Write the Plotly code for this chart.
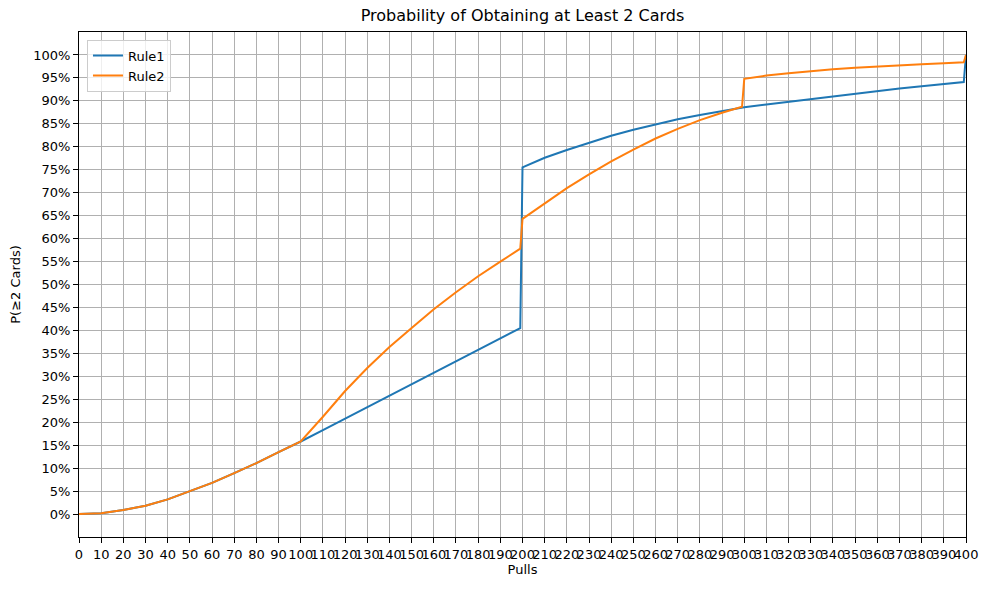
import plotly.graph_objects as go

# values (probability of >= 2 cards)
pulls = [0, 10, 20, 30, 40, 50, 60, 70, 80, 90, 100,
         110, 120, 130, 140, 150, 160, 170, 180, 190, 199,
         200, 210, 220, 230, 240, 250, 260, 270, 280, 290, 299,
         300, 310, 320, 330, 340, 350, 360, 370, 380, 390, 399, 400]

rule1 = [0.0, 0.002, 0.009, 0.018, 0.032, 0.050, 0.068, 0.089, 0.111, 0.135, 0.158,
         0.183, 0.208, 0.233, 0.258, 0.283, 0.308, 0.333, 0.358, 0.383, 0.405,
         0.755, 0.776, 0.793, 0.809, 0.824, 0.837, 0.849, 0.860, 0.869, 0.878, 0.885,
         0.886, 0.892, 0.898, 0.904, 0.910, 0.916, 0.922, 0.927, 0.932, 0.937, 0.941, 1.0]

rule2 = [0.0, 0.002, 0.009, 0.018, 0.032, 0.050, 0.068, 0.089, 0.111, 0.135, 0.158,
         0.212, 0.268, 0.318, 0.364, 0.405, 0.446, 0.483, 0.518, 0.550, 0.578,
         0.643, 0.677, 0.710, 0.740, 0.768, 0.794, 0.818, 0.839, 0.858, 0.874, 0.887,
         0.948, 0.955, 0.960, 0.965, 0.969, 0.972, 0.975, 0.978, 0.980, 0.982, 0.984, 1.0]

series = [("Rule1", rule1, "#1f77b4"), ("Rule2", rule2, "#ff7f0e")]

x_ticks = list(range(0, 401, 10))
y_ticks = [i / 20 for i in range(21)]

FONT = "DejaVu Sans, Liberation Sans, sans-serif"

fig = go.Figure()
for name, values, color in series:
    fig.add_trace(go.Scatter(
        x=pulls, y=values, name=name, mode="lines",
        line=dict(color=color, width=2),
    ))

axis_style = dict(
    showline=True, linecolor="black", linewidth=1, mirror=True,
    showgrid=True, gridcolor="#b0b0b0", gridwidth=1,
    ticks="outside", ticklen=5, tickwidth=1, tickcolor="black",
    zeroline=False, tickfont=dict(size=13, color="black"),
    automargin=False,
)

fig.update_layout(
    width=990, height=590,
    paper_bgcolor="white", plot_bgcolor="white",
    font=dict(family=FONT, size=13, color="black"),
    title=dict(text="Probability of Obtaining at Least 2 Cards", x=0.5, xref="paper",
               yref="paper", y=1, yanchor="bottom", pad=dict(b=11), font=dict(size=16)),
    margin=dict(l=71, r=32, t=24, b=61),
    showlegend=True,
    legend=dict(x=0.009, y=0.985, xanchor="left", yanchor="top",
                bgcolor="rgba(255,255,255,0.8)", bordercolor="#cccccc", borderwidth=1,
                font=dict(size=13)),
)
fig.update_xaxes(range=[0, 400], tickmode="array", tickvals=x_ticks,
                 ticktext=[str(t) for t in x_ticks], tickangle=0,
                 title=dict(text="Pulls", standoff=3, font=dict(size=13)), **axis_style)
fig.update_yaxes(range=[-0.05, 1.05], tickmode="array", tickvals=y_ticks,
                 ticktext=[f"{round(t * 100)}%" for t in y_ticks],
                 title=dict(text="P(≥2 Cards)", standoff=9, font=dict(size=13)), **axis_style)

fig.write_html("out.html")
